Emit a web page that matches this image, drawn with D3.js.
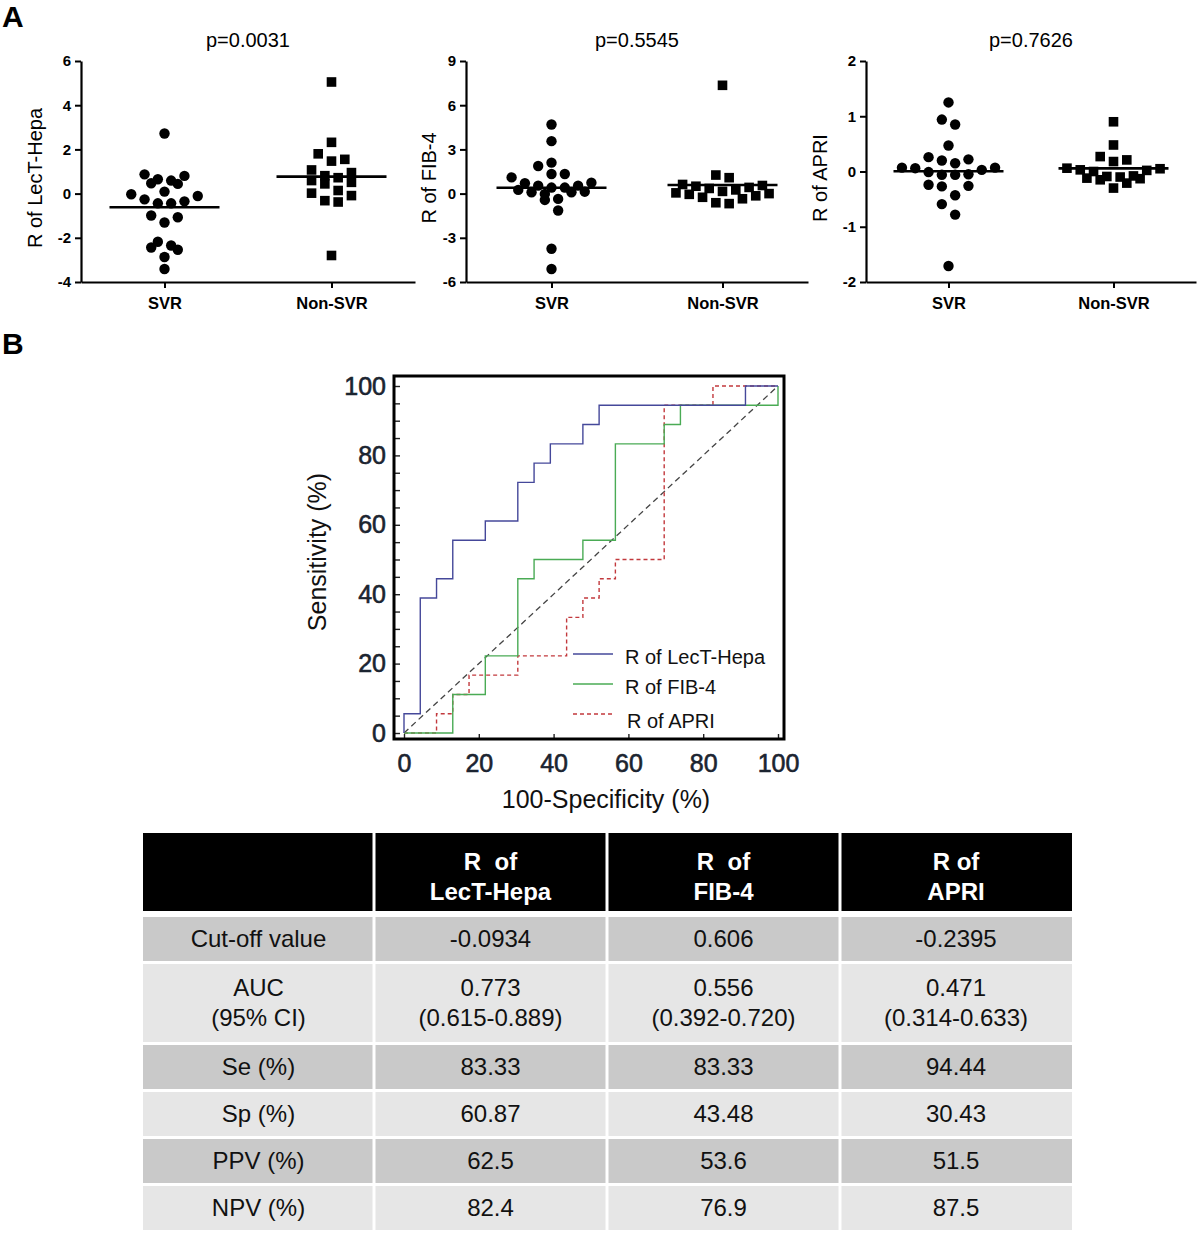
<!DOCTYPE html>
<html>
<head>
<meta charset="utf-8">
<script src="https://cdn.jsdelivr.net/npm/d3@7"></script>
<style>
  html, body { margin: 0; padding: 0; background: #fff; }
  svg { display: block; font-family: "Liberation Sans", Arial, Helvetica, sans-serif; }
</style>
</head>
<body>
<svg id="chart" width="1200" height="1238"></svg>
<script>
// ---------------- DATA ----------------
const groups = ["SVR", "Non-SVR"];

// Panel A: individual R values
const lectSVR = [2.72,0.80,0.59,0.44,0.47,0.65,0.87,-0.03,-0.26,-0.44,-0.44,-0.35,-0.11,0.09,-0.99,-1.31,-1.07,-2.18,-2.44,-2.54,-2.35,-2.87,-3.41];
const lectNon = [5.05,2.32,1.80,1.47,1.55,1.07,0.81,0.95,0.59,0.44,0.51,0.72,0.02,-0.32,-0.38,-0.09,0.14,-2.80];
const fibSVR  = [4.69,3.56,2.10,1.87,1.33,1.33,1.10,0.70,0.74,0.54,0.54,0.13,0.09,0.41,0.41,0.09,0.25,-0.02,-0.36,-0.43,-1.15,-3.74,-5.12];
const fibNon  = [7.35,1.26,1.08,0.62,0.55,0.50,0.42,0.35,0.25,0.15,0.05,0.00,-0.05,-0.15,-0.25,-0.35,-0.62,-0.68];
const apriSVR = [1.25,0.94,0.85,0.47,0.20,0.22,0.26,0.15,0.06,-0.01,-0.06,0.07,-0.06,-0.05,0.03,0.07,-0.26,-0.27,-0.24,-0.43,-0.59,-0.78,-1.71];
const apriNon = [0.90,0.48,0.27,0.21,0.18,0.06,0.05,0.03,0.02,0.00,-0.08,-0.09,-0.10,-0.12,-0.13,-0.15,-0.21,-0.30];

const lectTicks = [-4,-2,0,2,4,6];
const fibTicks  = [-6,-3,0,3,6,9];
const apriTicks = [-2,-1,0,1,2];

const yTitles = ["R of LecT-Hepa", "R of FIB-4", "R of APRI"];
const pValues = ["p=0.0031", "p=0.5545", "p=0.7626"];

// Panel B: ROC operating points (100-specificity %, sensitivity %)
const lectFpr = [0,0,4.35,8.70,13.04,21.74,30.43,34.78,39.13,47.83,52.17,91.30,100];
const lectTpr = [0,5.56,38.89,44.44,55.56,61.11,72.22,77.78,83.33,88.89,94.44,100,100];
const fibFpr  = [0,13.04,21.74,30.43,34.78,47.83,56.52,69.57,73.91,100];
const fibTpr  = [0,11.11,22.22,44.44,50.00,55.56,83.33,88.89,94.44,100];
const apriFpr = [0,8.70,13.04,17.39,30.43,43.48,47.83,52.17,56.52,69.57,82.61,100];
const apriTpr = [0,5.56,11.11,16.67,22.22,33.33,38.89,44.44,50.00,94.44,100,100];
const rocTicks = [0,20,40,60,80,100];
const rocMinorTicks = d3.range(0,101,5);
const rocNames = ["R of LecT-Hepa", "R of FIB-4", "R of APRI"];

// Table
const headerLines = [["R  of","LecT-Hepa"],["R  of","FIB-4"],["R of","APRI"]];
const rowLabels = [["Cut-off value"],["AUC","(95% CI)"],["Se (%)"],["Sp (%)"],["PPV (%)"],["NPV (%)"]];
const cutoff = ["-0.0934","0.606","-0.2395"];
const auc    = ["0.773","0.556","0.471"];
const aucCI  = ["(0.615-0.889)","(0.392-0.720)","(0.314-0.633)"];
const se     = ["83.33","83.33","94.44"];
const sp     = ["60.87","43.48","30.43"];
const ppv    = ["62.5","53.6","51.5"];
const npv    = ["82.4","76.9","87.5"];

// ---------------- DRAW ----------------
const svg = d3.select("#chart");
const FONT = "Liberation Sans, Arial, sans-serif";

svg.append("text").attr("x", 2).attr("y", 27).attr("font-size", 30).attr("font-weight", "bold").text("A");
svg.append("text").attr("x", 2).attr("y", 354).attr("font-size", 30).attr("font-weight", "bold").text("B");

const panels = [
  {svr: lectSVR, non: lectNon, ticks: lectTicks, x0: 81,  w: 334, titleDx: 46},
  {svr: fibSVR,  non: fibNon,  ticks: fibTicks,  x0: 466, w: 342, titleDx: 37},
  {svr: apriSVR, non: apriNon, ticks: apriTicks, x0: 866, w: 330, titleDx: 46}
];
const aTop = 61, aBottom = 282;

// Row-based scatter layout (points of similar value share a row, centred on the group)
function rowLayout(values, y, cx, slot, rowPx) {
  const sorted = values.slice().sort((a, b) => a - b);
  const rows = [];
  let cur = [];
  sorted.forEach(v => {
    if (cur.length && Math.abs(y(v) - y(cur[0])) > rowPx) { rows.push(cur); cur = []; }
    cur.push(v);
  });
  if (cur.length) rows.push(cur);
  const out = [];
  rows.forEach(r => {
    const n = r.length;
    const slots = d3.range(n).map(i => i - (n - 1) / 2)
      .sort((a, b) => Math.abs(a) - Math.abs(b) || b - a);
    r.forEach((v, i) => out.push({x: cx + slots[i] * slot, y: y(v), v}));
  });
  return out;
}

panels.forEach((p, idx) => {
  const g = svg.append("g");
  const y = d3.scaleLinear().domain(d3.extent(p.ticks)).range([aBottom, aTop]);
  const x = d3.scalePoint().domain(groups).range([p.x0, p.x0 + p.w]).padding(0.5);

  const ya = g.append("g").attr("transform", `translate(${p.x0},0)`)
    .call(d3.axisLeft(y).tickValues(p.ticks).tickFormat(d => String(d))
      .tickSize(6).tickSizeOuter(0).tickPadding(4));
  ya.select(".domain").attr("stroke-width", 2.2);
  ya.selectAll(".tick line").attr("stroke-width", 2);
  ya.selectAll(".tick text").attr("font-size", 15).attr("font-weight", "bold")
    .attr("font-family", FONT).attr("fill", "#000");

  const xa = g.append("g").attr("transform", `translate(0,${aBottom})`)
    .call(d3.axisBottom(x).tickSize(6).tickSizeOuter(0).tickPadding(9));
  xa.select(".domain").attr("stroke-width", 2.2);
  xa.selectAll(".tick line").attr("stroke-width", 2);
  xa.selectAll(".tick text").attr("font-size", 16.5).attr("font-weight", "bold")
    .attr("font-family", FONT).attr("fill", "#000");

  g.append("text")
    .attr("transform", `translate(${p.x0 - p.titleDx},178) rotate(-90)`)
    .attr("text-anchor", "middle").attr("dy", "0.35em")
    .attr("font-size", 20).text(yTitles[idx]);

  g.append("text")
    .attr("x", (x("SVR") + x("Non-SVR")) / 2).attr("y", 47)
    .attr("text-anchor", "middle").attr("font-size", 20).text(pValues[idx]);

  const cx1 = x("SVR");
  g.selectAll(".dot").data(rowLayout(p.svr, y, cx1, 13.3, 11)).join("circle")
    .attr("cx", d => d.x).attr("cy", d => d.y).attr("r", 5.2).attr("fill", "#000");
  const cx2 = x("Non-SVR");
  const sq = 9.6;
  g.selectAll(".sq").data(rowLayout(p.non, y, cx2, 13.3, 11)).join("rect")
    .attr("x", d => d.x - sq / 2).attr("y", d => d.y - sq / 2)
    .attr("width", sq).attr("height", sq).attr("fill", "#000");

  [[cx1, d3.mean(p.svr)], [cx2, d3.mean(p.non)]].forEach(([cx, m]) => {
    g.append("line").attr("x1", cx - 55).attr("x2", cx + 55)
      .attr("y1", y(m)).attr("y2", y(m)).attr("stroke", "#000").attr("stroke-width", 2.6);
  });
});

// ---------------- ROC ----------------
const rx = d3.scaleLinear().domain([0, 100]).range([404, 778]);
const ry = d3.scaleLinear().domain([0, 100]).range([733, 386]);
const frame = {x1: 394, x2: 784, y1: 376, y2: 739};
const rg = svg.append("g");
const tickColor = "#1b2430";

const yax = rg.append("g").attr("transform", `translate(${frame.x1},0)`)
  .call(d3.axisLeft(ry).tickValues(rocMinorTicks).tickSizeInner(-6).tickSizeOuter(0).tickPadding(8)
    .tickFormat(d => rocTicks.includes(d) ? String(d) : ""));
yax.select(".domain").remove();
yax.selectAll(".tick line").attr("stroke", "#222").attr("stroke-width", 1.4);
yax.selectAll(".tick text").attr("font-size", 25).attr("fill", tickColor)
  .attr("stroke", tickColor).attr("stroke-width", 0.6).attr("font-family", FONT);

const xax = rg.append("g").attr("transform", `translate(0,${frame.y2})`)
  .call(d3.axisBottom(rx).tickValues(rocTicks).tickFormat(d => String(d))
    .tickSizeInner(-5).tickSizeOuter(0).tickPadding(15));
xax.select(".domain").remove();
xax.selectAll(".tick line").attr("stroke", "#222").attr("stroke-width", 1.4);
xax.selectAll(".tick text").attr("font-size", 25).attr("fill", tickColor)
  .attr("stroke", tickColor).attr("stroke-width", 0.6).attr("font-family", FONT);

rg.append("rect").attr("x", frame.x1).attr("y", frame.y1)
  .attr("width", frame.x2 - frame.x1).attr("height", frame.y2 - frame.y1)
  .attr("fill", "none").attr("stroke", "#000").attr("stroke-width", 3);

rg.append("line").attr("x1", rx(0)).attr("y1", ry(0)).attr("x2", rx(100)).attr("y2", ry(100))
  .attr("stroke", "#444").attr("stroke-width", 1.3).attr("stroke-dasharray", "6,4");

const step = d3.line().x(d => rx(d[0])).y(d => ry(d[1])).curve(d3.curveStepAfter);
const rocSeries = [
  {fpr: apriFpr, tpr: apriTpr, color: "#c2393d", dash: "4,3", name: rocNames[2]},
  {fpr: fibFpr,  tpr: fibTpr,  color: "#4aab55", dash: null,  name: rocNames[1]},
  {fpr: lectFpr, tpr: lectTpr, color: "#45489a", dash: null,  name: rocNames[0]}
];
rocSeries.forEach(s => {
  rg.append("path").attr("d", step(s.fpr.map((f, i) => [f, s.tpr[i]])))
    .attr("fill", "none").attr("stroke", s.color).attr("stroke-width", 1.4)
    .attr("stroke-dasharray", s.dash);
});

const legend = [rocSeries[2], rocSeries[1], rocSeries[0]];
legend.forEach((s, i) => {
  const ly = 654 + i * 30;
  rg.append("line").attr("x1", 573).attr("x2", 613).attr("y1", ly).attr("y2", ly)
    .attr("stroke", s.color).attr("stroke-width", 1.4).attr("stroke-dasharray", s.dash);
  rg.append("text").attr("x", 625 + (i === 2 ? 2 : 0)).attr("y", ly + 3 + (i === 2 ? 4 : 0)).attr("dy", "0.35em")
    .attr("font-size", 20).attr("fill", "#111").text(s.name);
});

rg.append("text").attr("transform", "translate(317,552) rotate(-90)")
  .attr("text-anchor", "middle").attr("dy", "0.35em").attr("font-size", 25).attr("fill", "#111")
  .text("Sensitivity (%)");
rg.append("text").attr("x", 606).attr("y", 799).attr("dy", "0.35em")
  .attr("text-anchor", "middle").attr("font-size", 25).attr("fill", "#111")
  .text("100-Specificity (%)");

// ---------------- TABLE ----------------
const colX = [143, 374, 607, 840, 1072];
const gap = 1.5;
const tg = svg.append("g").attr("font-size", 24);

const headerTop = 833, headerH = 78;
for (let c = 0; c < 4; c++) {
  tg.append("rect").attr("x", colX[c] + (c ? gap : 0)).attr("y", headerTop)
    .attr("width", colX[c + 1] - colX[c] - (c ? gap : 0) - (c < 3 ? gap : 0)).attr("height", headerH)
    .attr("fill", "#000");
}
headerLines.forEach((lines, c) => {
  const cx = (colX[c + 1] + colX[c + 2]) / 2;
  lines.forEach((t, j) => {
    tg.append("text").attr("x", cx).attr("y", headerTop + 29 + j * 30).attr("dy", "0.35em")
      .attr("text-anchor", "middle").attr("fill", "#fff").attr("font-weight", "bold")
      .style("white-space", "pre").text(t);
  });
});

const rowValues = [[cutoff], [auc, aucCI], [se], [sp], [ppv], [npv]];
let yTop = 917;
rowLabels.forEach((lab, r) => {
  const h = lab.length === 2 ? 78 : 44;
  const fill = r % 2 === 0 ? "#c9c9c9" : "#e6e6e6";
  for (let c = 0; c < 4; c++) {
    tg.append("rect").attr("x", colX[c] + (c ? gap : 0)).attr("y", yTop)
      .attr("width", colX[c + 1] - colX[c] - (c ? gap : 0) - (c < 3 ? gap : 0)).attr("height", h)
      .attr("fill", fill);
  }
  const cy = yTop + h / 2;
  const n = lab.length;
  lab.forEach((t, j) => {
    tg.append("text").attr("x", (colX[0] + colX[1]) / 2).attr("y", cy + (j - (n - 1) / 2) * 30)
      .attr("dy", "0.35em").attr("text-anchor", "middle").attr("fill", "#111").text(t);
  });
  rowValues[r].forEach((arr, j) => {
    arr.forEach((t, c) => {
      tg.append("text").attr("x", (colX[c + 1] + colX[c + 2]) / 2).attr("y", cy + (j - (n - 1) / 2) * 30)
        .attr("dy", "0.35em").attr("text-anchor", "middle").attr("fill", "#111").text(t);
    });
  });
  yTop += h + 3;
});
</script>
</body>
</html>
